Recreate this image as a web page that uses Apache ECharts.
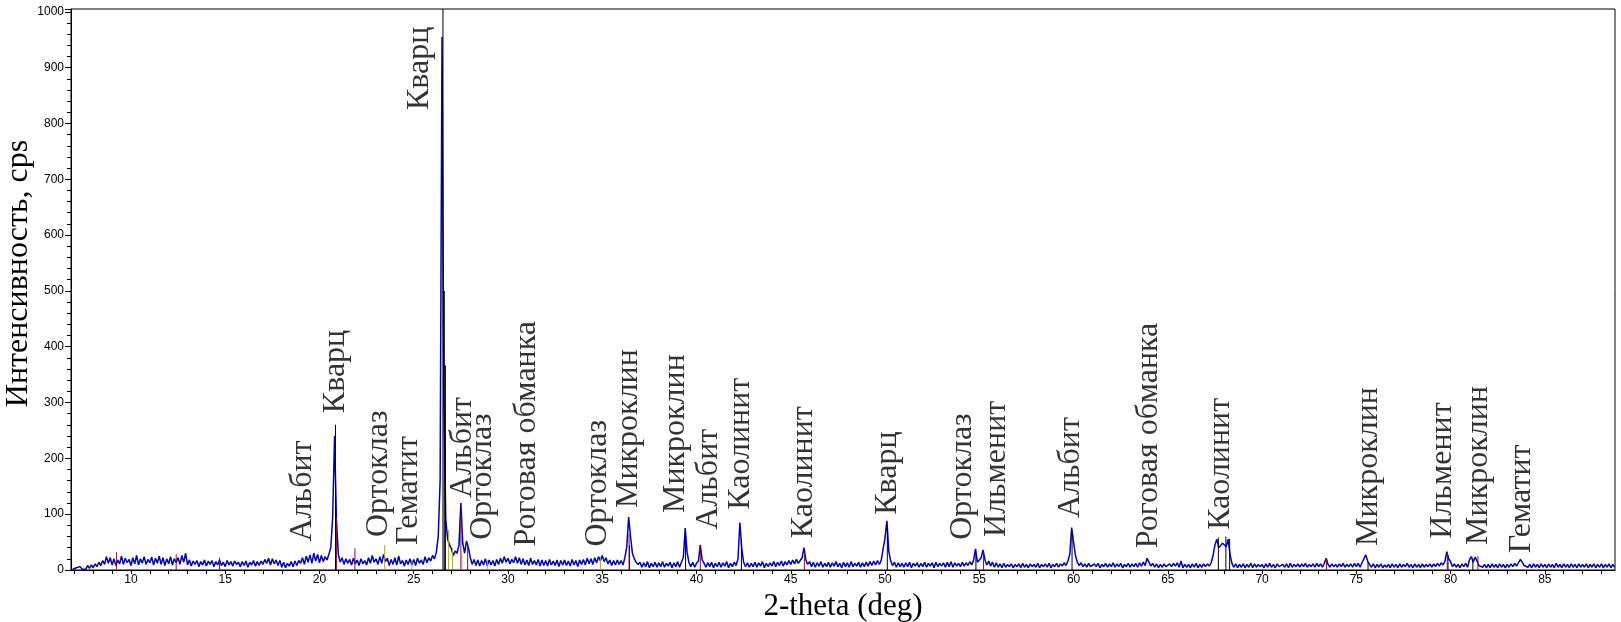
<!DOCTYPE html>
<html>
<head>
<meta charset="utf-8">
<script src="https://cdn.jsdelivr.net/npm/echarts@6/dist/echarts.min.js"></script>
<style>
  html, body { margin: 0; padding: 0; background: #fff; }
  #xrd { width: 1621px; height: 622px; }
</style>
</head>
<body>
<div id="xrd"></div>
<script>
// scan: 2-theta from 6.9 deg, step 0.1 deg
const scanStart = 6.9;
const scanStep = 0.1;
const counts = [
  1,
  0,4,1,6,2,5,1,8,3,9,
  4,11,6,14,8,17,10,24,12,22,
  9,20,8,18,11,25,10,21,13,19,
  8,22,11,26,9,20,12,24,10,19,
  13,23,9,21,12,25,10,22,8,20,
  11,24,9,20,13,22,10,26,14,30,
  9,18,7,16,10,17,6,15,9,18,
  7,16,10,17,6,15,9,18,8,14,
  6,17,9,15,7,16,10,14,6,15,
  8,16,5,14,9,17,7,15,8,16,
  10,19,12,21,9,20,11,18,8,17,
  5,14,4,12,7,15,6,16,8,17,
  12,22,10,25,14,27,12,30,16,28,
  13,26,15,24,18,28,40,95,240,90,
  28,14,22,10,20,12,19,9,21,11,
  18,8,20,11,17,9,22,12,26,14,
  20,10,24,12,28,15,21,8,19,10,
  22,9,25,11,17,7,18,10,20,9,
  19,8,21,12,18,10,24,13,22,16,
  26,20,32,60,160,955,300,90,55,45,
  38,26,34,30,45,120,48,30,52,40,
  22,10,19,8,18,7,17,9,20,8,
  18,9,17,7,19,10,21,12,24,14,
  21,11,19,13,24,12,22,10,20,9,
  18,8,21,10,17,9,19,7,18,8,
  17,7,19,9,16,8,18,6,17,9,
  18,8,16,7,19,9,17,6,18,10,
  19,9,21,11,20,10,22,13,24,16,
  26,15,22,11,18,8,17,9,18,10,
  17,9,22,42,95,60,30,20,14,10,
  14,5,13,6,15,4,12,6,14,5,
  13,6,15,5,12,7,14,4,13,6,
  15,5,14,22,75,32,13,6,14,5,
  12,16,45,18,12,5,13,6,14,4,
  12,6,14,5,13,7,15,4,12,6,
  14,8,20,85,38,14,6,13,5,12,
  6,14,5,13,7,15,4,12,6,13,
  7,15,6,14,8,16,7,15,9,17,
  10,18,11,19,12,17,22,40,18,10,
  15,6,14,5,13,7,15,5,12,6,
  14,5,13,7,15,6,12,4,14,6,
  13,5,15,6,12,7,14,5,13,6,
  14,7,15,8,16,9,17,10,18,20,
  58,88,33,16,8,14,5,13,6,12,
  5,13,6,14,4,12,7,13,5,12,
  6,14,5,12,7,13,4,14,6,12,
  7,13,5,14,6,15,5,13,7,12,
  6,14,7,13,8,15,9,18,38,14,
  12,22,36,18,9,16,7,14,5,13,
  5,11,4,12,5,10,6,11,4,10,
  6,11,4,12,5,10,4,11,6,10,
  5,12,4,10,6,11,5,12,4,10,
  6,12,5,11,7,13,8,16,28,76,
  50,26,14,8,13,6,11,5,12,6,
  5,11,6,12,4,10,6,12,5,11,
  6,13,5,11,6,12,4,10,6,12,
  5,11,6,12,5,13,7,14,8,21,
  14,7,12,5,11,4,10,5,11,6,
  5,11,6,12,7,13,5,16,4,10,
  5,10,4,11,5,12,4,10,5,11,
  6,11,7,13,26,45,55,40,38,48,
  50,42,55,28,12,5,11,4,10,5,
  11,4,10,5,12,4,11,5,10,6,
  10,4,11,5,12,5,10,4,11,6,
  4,10,5,11,4,12,5,10,6,11,
  5,11,6,12,5,10,6,11,5,12,
  6,11,5,12,21,10,5,11,6,10,
  5,11,6,12,5,10,6,11,5,12,
  6,12,5,13,14,27,16,10,5,11,
  4,10,5,11,4,9,5,10,4,11,
  5,10,4,11,5,10,6,12,5,10,
  4,11,5,10,4,11,5,10,6,11,
  5,11,6,12,7,13,9,16,33,20,
  15,6,11,5,10,4,11,6,12,5,
  18,24,14,23,16,8,11,5,10,4,
  10,4,11,5,10,4,11,5,10,4,
  10,5,11,6,12,7,13,19,14,8,
  11,5,10,4,11,5,10,4,11,5,
  10,4,11,5,10,4,12,5,10,4,
  11,5,10,4,11,5,10,4,11,5,
  10,5,11,4,10,5,11,4,10,5,
  11,4,10,5,11,4,10,5
];

// reference sticks [2-theta, height]
const sticksBlack = [[20.85,260],[26.55,1005],[26.62,500],[26.68,367],[36.45,45],[39.42,60],[42.38,55],
  [50.12,80],[54.82,30],[59.92,65],[67.68,58],[68.08,60],[68.28,56],[75.62,15],[79.86,25],[81.18,20]];
const sticksRed = [[9.24,32],[12.4,28],[14.7,22],[20.9,93],[21.88,39],[27.5,100],[27.86,45],[36.42,65],
  [40.2,40],[45.72,30],[55.22,30],[73.42,20],[79.82,30],[81.45,25]];
const sticksOlive = [[23.46,45],[26.85,72],[27.06,40],[27.55,30],[28.9,18],[34.9,20],[24.9,15]];

// phase labels: [2-theta, intensity at label start, name]
const phaseLabels = [
  [19.08,51,'Альбит'],
  [20.84,281,'Кварц'],
  [23.13,59,'Ортоклаз'],
  [24.72,45,'Гематит'],
  [25.32,824,'Кварц'],
  [27.57,129,'Альбит'],
  [28.63,54,'Ортоклаз'],
  [30.97,42,'Роговая обманка'],
  [34.75,42,'Ортоклаз'],
  [36.40,111,'Микроклин'],
  [38.89,102,'Микроклин'],
  [40.64,72,'Альбит'],
  [42.34,108,'Каолинит'],
  [45.67,57,'Каолинит'],
  [50.13,99,'Кварц'],
  [54.11,54,'Ортоклаз'],
  [55.93,59,'Ильменит'],
  [59.86,93,'Альбит'],
  [64.00,39,'Роговая обманка'],
  [67.82,72,'Каолинит'],
  [75.66,43,'Микроклин'],
  [79.59,56,'Ильменит'],
  [81.50,45,'Микроклин'],
  [83.74,30,'Гематит']
];

const xLabelValues = [10,15,20,25,30,35,40,45,50,55,60,65,70,75,80,85];
const xTickValues = [];
for (let t = 7; t <= 88; t++) xTickValues.push(t);

const pattern = counts.map((v, i) => [+(scanStart + i * scanStep).toFixed(2), v]);

function stickSeries(data, color) {
  return {
    type: 'bar',
    data: data,
    barWidth: 1,
    barGap: '-100%',
    itemStyle: { color: color },
    silent: true,
    z: 3
  };
}

let myChart = echarts.init(document.getElementById('xrd'));
let option = {
  animation: false,
  backgroundColor: '#fff',
  grid: {
    left: 71, right: 6, top: 9, bottom: 52,
    outerBoundsMode: 'none',
    containLabel: false,
    show: true, borderColor: '#000', borderWidth: 1
  },
  xAxis: {
    type: 'value',
    min: 6.82,
    max: 88.72,
    name: '2-theta (deg)',
    nameLocation: 'middle',
    nameGap: 17,
    nameTextStyle: { fontFamily: 'Liberation Serif', fontSize: 31, color: '#000' },
    axisLine: { lineStyle: { color: '#000', width: 1 } },
    axisTick: { customValues: xTickValues, length: 4, lineStyle: { color: '#000' } },
    axisLabel: { customValues: xLabelValues, margin: 4, fontFamily: 'Liberation Sans', fontSize: 12, color: '#000' },
    splitLine: { show: false }
  },
  yAxis: {
    type: 'value',
    min: 0,
    max: 1005,
    interval: 100,
    name: 'Интенсивность, cps',
    nameLocation: 'middle',
    nameMoveOverlap: false,
    nameGap: 36,
    nameTextStyle: { fontFamily: 'Liberation Serif', fontSize: 32, color: '#000', padding: [0, 0, 0, 32] },
    axisLine: { show: true, lineStyle: { color: '#000', width: 1 } },
    axisTick: { show: true, length: 6, lineStyle: { color: '#000' } },
    minorTick: { show: true, splitNumber: 5, length: 4, lineStyle: { color: '#000' } },
    axisLabel: {
      margin: 7, fontFamily: 'Liberation Sans', fontSize: 12, color: '#000',
      showMaxLabel: false,
      formatter: v => (v % 100 === 0 ? String(v) : '')
    },
    splitLine: { show: false }
  },
  series: [
    {
      type: 'line',
      data: pattern,
      symbol: 'none',
      lineStyle: { color: '#0000b0', width: 1.5 },
      z: 2
    },
    stickSeries(sticksBlack, '#000000'),
    stickSeries(sticksRed, '#7a1040'),
    stickSeries(sticksOlive, '#a6a63a'),
    {
      type: 'scatter',
      data: phaseLabels,
      symbolSize: 0,
      silent: true,
      z: 5,
      label: {
        show: true,
        position: 'inside',
        rotate: 90,
        align: 'left',
        verticalAlign: 'middle',
        fontFamily: 'Liberation Serif',
        fontSize: 32,
        color: '#000',
        formatter: p => p.data[2]
      }
    }
  ]
};
myChart.setOption(option);
</script>
</body>
</html>
